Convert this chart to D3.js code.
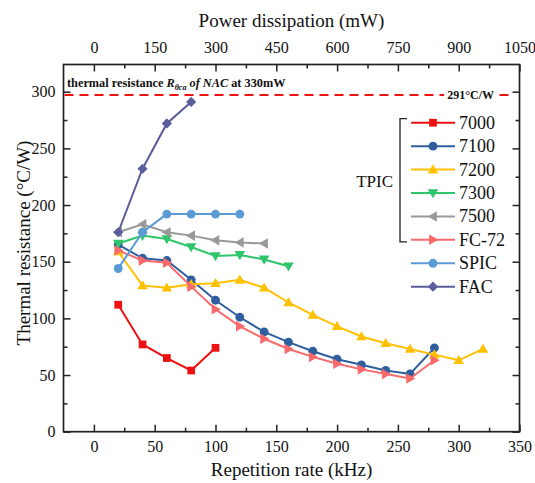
<!DOCTYPE html>
<html><head><meta charset="utf-8">
<script src="https://cdnjs.cloudflare.com/ajax/libs/d3/7.8.5/d3.min.js"></script>
<style>
body{margin:0;background:#fff;}
svg{display:block;}
svg text{font-family:"Liberation Serif","Times New Roman",serif;}
</style></head>
<body><svg id="c" width="535" height="483" font-family="Liberation Serif, serif"></svg>
<script>
// ---- data ----
const rate7000 = [20, 40, 60, 80, 100];
const val7000 = [112, 77, 65, 54, 74];
const rate7100 = [20, 40, 60, 80, 100, 120, 140, 160, 180, 200, 220, 240, 260, 280];
const val7100 = [165, 153, 151, 134, 116, 101, 88, 79, 71, 64, 59, 54, 51, 74];
const rate7200 = [20, 40, 60, 80, 100, 120, 140, 160, 180, 200, 220, 240, 260, 280, 300, 320];
const val7200 = [159, 129, 127, 130, 131, 134, 127, 114, 103, 93, 84, 78, 73, 68, 63, 73];
const rate7300 = [20, 40, 60, 80, 100, 120, 140, 160];
const val7300 = [166, 173, 170, 163, 155, 156, 152, 146];
const rate7500 = [20, 40, 60, 80, 100, 120, 140];
const val7500 = [176, 183, 176, 173, 169, 167, 166];
const rateFC72 = [20, 40, 60, 80, 100, 120, 140, 160, 180, 200, 220, 240, 260, 280];
const valFC72 = [160, 151, 149, 128, 108, 93, 82, 73, 66, 60, 55, 51, 47, 63];
const rateSPIC = [20, 40, 60, 80, 100, 120];
const valSPIC = [144, 176, 192, 192, 192, 192];
const rateFAC = [20, 40, 60, 80];
const valFAC = [176, 232, 272, 291];
const seriesNames = ["7000", "7100", "7200", "7300", "7500", "FC-72", "SPIC", "FAC"];
const nacLimit = 297;
const nacLabel = "291°C/W";
const xTicks = [0, 50, 100, 150, 200, 250, 300, 350];
const topTicks = [0, 150, 300, 450, 600, 750, 900, 1050];
const yTicks = [0, 50, 100, 150, 200, 250, 300];

const series = [
  {name:"7000", x:rate7000, v:val7000, color:"#ee1111", shape:"square"},
  {name:"7100", x:rate7100, v:val7100, color:"#2e5e9e", shape:"circle"},
  {name:"7200", x:rate7200, v:val7200, color:"#ffc000", shape:"up"},
  {name:"7300", x:rate7300, v:val7300, color:"#2fc56a", shape:"down"},
  {name:"7500", x:rate7500, v:val7500, color:"#999999", shape:"left"},
  {name:"FC-72", x:rateFC72, v:valFC72, color:"#f8696b", shape:"right"},
  {name:"SPIC", x:rateSPIC, v:valSPIC, color:"#5b9bd5", shape:"circle"},
  {name:"FAC", x:rateFAC, v:valFAC, color:"#5c5b9c", shape:"diamond"}
];

const L = 63.5, R = 519.5, T = 64.5, B = 431.7;
const FONT = '"Liberation Serif", "Times New Roman", serif';
const svg = d3.select("#c");
const x = d3.scaleLinear().domain([-25, 350]).range([L, R]);
const xTop = d3.scaleLinear().domain([-75, 1050]).range([L, R]);
const y = d3.scaleLinear().domain([0, 324]).range([B, T]);

function styleAxis(g){
  g.attr("font-family", FONT);
  g.select(".domain").remove();
  g.selectAll(".tick line").attr("stroke","#222").attr("stroke-width",1.5);
  g.selectAll(".tick text").attr("font-size",16).attr("fill","#111").attr("font-family",FONT);
}
const minorX = d3.range(25, 350, 50);
const minorTop = d3.range(75, 1050, 150);
const minorY = d3.range(25, 324, 50);

// bottom
svg.append("g").attr("transform",`translate(0,${B})`)
  .call(d3.axisBottom(x).tickValues(xTicks).tickSize(-7).tickPadding(9).tickFormat(d3.format("d"))).call(styleAxis);
svg.append("g").attr("transform",`translate(0,${B})`)
  .call(d3.axisBottom(x).tickValues(minorX).tickSize(-4).tickFormat("")).call(styleAxis);
// top
svg.append("g").attr("transform",`translate(0,${T})`)
  .call(d3.axisTop(xTop).tickValues(topTicks).tickSize(-7).tickPadding(12).tickFormat(d3.format("d"))).call(styleAxis);
svg.append("g").attr("transform",`translate(0,${T})`)
  .call(d3.axisTop(xTop).tickValues(minorTop).tickSize(-4).tickFormat("")).call(styleAxis);
// left
svg.append("g").attr("transform",`translate(${L},0)`)
  .call(d3.axisLeft(y).tickValues(yTicks).tickSize(-7).tickPadding(8).tickFormat(d3.format("d"))).call(styleAxis);
svg.append("g").attr("transform",`translate(${L},0)`)
  .call(d3.axisLeft(y).tickValues(minorY).tickSize(-4).tickFormat("")).call(styleAxis);
// right
svg.append("g").attr("transform",`translate(${R},0)`)
  .call(d3.axisRight(y).tickValues(yTicks).tickSize(-7).tickFormat("")).call(styleAxis);
svg.append("g").attr("transform",`translate(${R},0)`)
  .call(d3.axisRight(y).tickValues(minorY).tickSize(-4).tickFormat("")).call(styleAxis);

// frame
svg.append("rect").attr("x",L).attr("y",T).attr("width",R-L).attr("height",B-T)
  .attr("fill","none").attr("stroke","#222").attr("stroke-width",1.7);

// axis titles
svg.append("text").attr("x",(L+R)/2).attr("y",476).attr("text-anchor","middle").attr("font-family",FONT)
  .attr("font-size",19).attr("fill","#111").text("Repetition rate (kHz)");
svg.append("text").attr("x",(L+R)/2).attr("y",27).attr("text-anchor","middle").attr("font-family",FONT)
  .attr("font-size",19).attr("fill","#111").text("Power dissipation (mW)");
svg.append("text").attr("transform",`translate(30,243) rotate(-90)`).attr("text-anchor","middle").attr("font-family",FONT)
  .attr("font-size",19).attr("fill","#111").text("Thermal resistance (°C/W)");

// NAC dashed line
const ly = y(nacLimit);
svg.append("line").attr("x1",L+1).attr("x2",R-8).attr("y1",ly).attr("y2",ly)
  .attr("stroke","#ee1111").attr("stroke-width",2).attr("stroke-dasharray","9,6");
const lg = svg.append("g");
const bgRect = lg.append("rect").attr("fill","#fff");
const lbl = lg.append("text").attr("x",494).attr("y",ly+4).attr("text-anchor","end").attr("font-family",FONT)
  .attr("font-size",12).attr("font-weight","bold").attr("fill","#111").text(nacLabel);
const bb = lbl.node().getBBox();
bgRect.attr("x",bb.x-3).attr("y",bb.y).attr("width",bb.width+6).attr("height",bb.height);

const ann = svg.append("text").attr("x",67).attr("y",87).attr("font-size",12.3).attr("font-family",FONT)
  .attr("font-weight","bold").attr("fill","#111");
ann.append("tspan").text("thermal resistance ");
ann.append("tspan").attr("font-style","italic").text("R");
ann.append("tspan").attr("font-style","italic").attr("font-size",8).attr("dy",3).text("θca");
ann.append("tspan").attr("font-style","italic").attr("dy",-3).text(" of NAC");
ann.append("tspan").text(" at 330mW");

// markers
function sym(shape){
  const s = 8.5;
  switch(shape){
    case "square": return d3.symbol(d3.symbolSquare, 60)();
    case "circle": return d3.symbol(d3.symbolCircle, 62)();
    case "diamond": return `M0,${-s*0.6}L${s*0.6},0L0,${s*0.6}L${-s*0.6},0Z`;
    case "up": return `M0,${-s*0.62}L${s*0.62},${s*0.45}L${-s*0.62},${s*0.45}Z`;
    case "down": return `M0,${s*0.62}L${s*0.62},${-s*0.45}L${-s*0.62},${-s*0.45}Z`;
    case "left": return `M${-s*0.62},0L${s*0.45},${s*0.62}L${s*0.45},${-s*0.62}Z`;
    case "right": return `M${s*0.62},0L${-s*0.45},${s*0.62}L${-s*0.45},${-s*0.62}Z`;
  }
}
const line = d3.line().x(d=>x(d[0])).y(d=>y(d[1]));
series.forEach(s=>{
  const pts = s.x.map((xx,i)=>[xx, s.v[i]]);
  const g = svg.append("g");
  g.append("path").attr("d",line(pts)).attr("fill","none").attr("stroke",s.color).attr("stroke-width",2);
  g.selectAll("path.m").data(pts).enter().append("path").attr("class","m")
    .attr("transform",d=>`translate(${x(d[0])},${y(d[1])})`).attr("d",sym(s.shape)).attr("fill",s.color);
});

// legend
const legY = d3.scaleLinear().domain([0,7]).range([122.7, 286.7]);
series.forEach((s,i)=>{
  const yy = legY(i);
  svg.append("line").attr("x1",411).attr("x2",455).attr("y1",yy).attr("y2",yy).attr("stroke",s.color).attr("stroke-width",2);
  svg.append("path").attr("transform",`translate(433,${yy})`).attr("d",sym(s.shape)).attr("fill",s.color);
  svg.append("text").attr("x",459).attr("y",yy+6).attr("font-size",18).attr("font-family",FONT)
    .attr("fill","#111").text(seriesNames[i]);
});
// bracket
svg.append("path").attr("d",`M407,${legY(0)-4}H400V${legY(5)+2}H407`).attr("fill","none").attr("stroke","#222").attr("stroke-width",1.3);
svg.append("text").attr("x",393).attr("y",(legY(0)+legY(5))/2+6).attr("text-anchor","end").attr("font-family",FONT)
  .attr("font-size",17).attr("fill","#111").text("TPIC");
</script></body></html>
